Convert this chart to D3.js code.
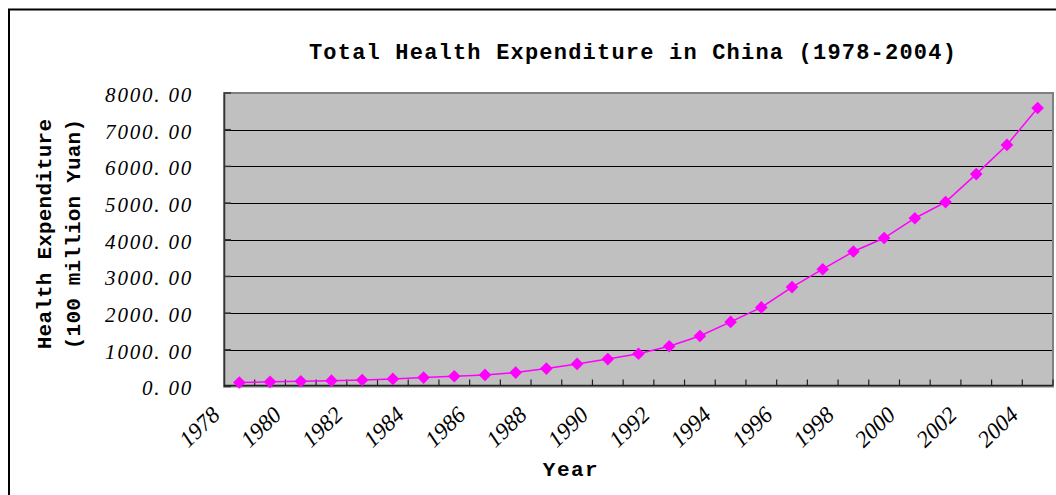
<!DOCTYPE html>
<html><head><meta charset="utf-8">
<script src="https://cdn.jsdelivr.net/npm/d3@7"></script>
<style>
html,body{margin:0;padding:0;background:#fff;}
svg{display:block;}
</style></head>
<body>
<svg id="chart" width="1056" height="495"></svg>
<script>
const years = [1978,1979,1980,1981,1982,1983,1984,1985,1986,1987,1988,1989,1990,1991,1992,1993,1994,1995,1996,1997,1998,1999,2000,2001,2002,2003,2004];
const expenditure = [110.21,126.19,143.23,160.12,177.53,207.42,242.07,279.00,315.90,379.58,488.04,615.50,747.39,893.49,1096.86,1377.78,1761.24,2155.13,2709.42,3196.71,3678.72,4047.50,4586.63,5025.93,5790.03,6584.10,7590.29];
const yTicks = [0,1000,2000,3000,4000,5000,6000,7000,8000];
const xLabelYears = [1978,1980,1982,1984,1986,1988,1990,1992,1994,1996,1998,2000,2002,2004];
const titleText = "Total Health Expenditure in China (1978-2004)";
const yTitleLines = ["Health Expenditure","(100 million Yuan)"];
const xTitleText = "Year";

const svg = d3.select("#chart");
const L = 224, R = 1053, T = 93, B = 386.5;

// outer chart border
svg.append("rect").attr("x",9).attr("y",9.5).attr("width",1200).attr("height",700)
  .attr("fill","#fff").attr("stroke","#000").attr("stroke-width",2);

const x = d3.scaleBand().domain(years).range([L,R]).paddingInner(0).paddingOuter(0);
const y = d3.scaleLinear().domain([0,8000]).range([B,T]);

// plot area
svg.append("rect").attr("x",L).attr("y",T).attr("width",R-L).attr("height",B-T)
  .attr("fill","#c0c0c0");

// gridlines
svg.append("g").selectAll("line").data(yTicks.filter(v=>v>0 && v<8000)).join("line")
  .attr("x1",L).attr("x2",R).attr("y1",d=>Math.round(y(d))+0.5).attr("y2",d=>Math.round(y(d))+0.5)
  .attr("stroke","#000").attr("stroke-width",1);

// plot border
svg.append("rect").attr("x",L).attr("y",T).attr("width",R-L).attr("height",B-T)
  .attr("fill","none").attr("stroke","#808080").attr("stroke-width",2);

// y axis
const yAxis = d3.axisLeft(y).tickValues(yTicks).tickSize(0).tickPadding(0)
  .tickFormat(d=>d3.format(".2f")(d).replace(".",". "));
const gy = svg.append("g").attr("transform",`translate(${L},0)`).call(yAxis);
gy.select(".domain").attr("stroke","#333").attr("stroke-width",1.5);
gy.selectAll(".tick text").attr("x",-31).attr("dy","0.4em")
  .attr("font-family","'Liberation Serif', serif").attr("font-style","italic")
  .attr("font-size",21).attr("letter-spacing","1.8px").attr("fill","#000");
// y inner ticks
svg.append("g").selectAll("line").data(yTicks).join("line")
  .attr("x1",L).attr("x2",L+7).attr("y1",d=>y(d)).attr("y2",d=>y(d))
  .attr("stroke","#333").attr("stroke-width",1.5);

// x axis line
svg.append("line").attr("x1",L).attr("x2",R).attr("y1",B-1).attr("y2",B-1)
  .attr("stroke","#222").attr("stroke-width",1.5);
// x ticks at category boundaries (inside)
const bounds = years.map(d=>x(d)).concat([R]);
svg.append("g").selectAll("line").data(bounds.slice(1)).join("line")
  .attr("x1",d=>d).attr("x2",d=>d).attr("y1",B-1).attr("y2",B-7)
  .attr("stroke","#222").attr("stroke-width",1.2);

// x labels
const bw = x.bandwidth();
svg.append("g").selectAll("text").data(xLabelYears).join("text")
  .attr("transform",d=>`translate(${x(d)+bw/2-18},${B+30}) rotate(-44)`)
  .attr("text-anchor","end")
  .attr("font-family","'Liberation Serif', serif").attr("font-style","italic")
  .attr("font-size",23).attr("fill","#000")
  .text(d=>d);

// line
const line = d3.line().x((d,i)=>x(years[i])+bw/2).y(d=>y(d));
svg.append("path").datum(expenditure).attr("d",line)
  .attr("fill","none").attr("stroke","#ff00ff").attr("stroke-width",1.5);
// markers
const sym = d3.symbol(d3.symbolSquare,80);
svg.append("g").selectAll("path").data(expenditure).join("path")
  .attr("d",sym)
  .attr("transform",(d,i)=>`translate(${x(years[i])+bw/2},${y(d)}) rotate(45)`)
  .attr("fill","#ff00ff");

// title
svg.append("text").attr("x",633).attr("y",59).attr("text-anchor","middle")
  .attr("font-family","'Liberation Mono', monospace").attr("font-weight","bold")
  .attr("font-size",22).attr("letter-spacing","1.2px").attr("fill","#000")
  .text(titleText);

// y title
const yt = svg.append("text").attr("transform","translate(0,234) rotate(-90)")
  .attr("text-anchor","middle")
  .attr("font-family","'Liberation Mono', monospace").attr("font-weight","bold")
  .attr("font-size",21).attr("letter-spacing","0.2px").attr("fill","#000");
yt.selectAll("tspan").data(yTitleLines).join("tspan")
  .attr("x",0).attr("y",(d,i)=>51+i*29).text(d=>d);

// x title
svg.append("text").attr("x",571).attr("y",476).attr("text-anchor","middle")
  .attr("font-family","'Liberation Mono', monospace").attr("font-weight","bold")
  .attr("font-size",21).attr("letter-spacing","1.5px").attr("fill","#000")
  .text(xTitleText);
</script>
</body></html>
